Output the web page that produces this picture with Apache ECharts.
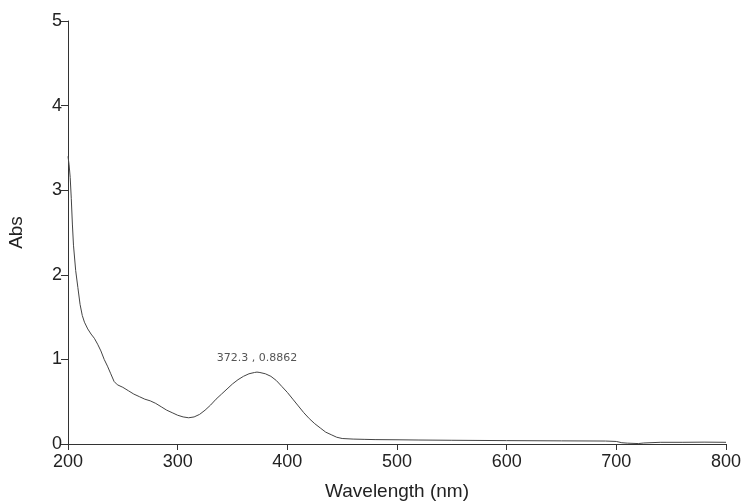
<!DOCTYPE html>
<html><head><meta charset="utf-8">
<script src="https://cdn.jsdelivr.net/npm/echarts@6/dist/echarts.min.js"></script>
<style>html,body{margin:0;padding:0;background:#fff}#c{width:748px;height:502px}</style>
</head><body><div id="c"></div>
<script>
var wavelengths = [200,201,202,203,204,205,207,209,211,213,215,218,221,224,227,230,233,236,239,242,245,250,255,260,265,270,275,280,285,290,295,300,305,310,315,320,325,330,335,340,345,350,355,360,365,370,372.3,375,380,385,390,395,400,405,410,415,420,425,430,435,440,445,450,460,470,480,500,520,550,600,650,690,700,705,710,720,725,740,760,780,800];
var absorbance = [3.40,3.30,3.15,2.90,2.60,2.35,2.05,1.85,1.65,1.52,1.44,1.36,1.30,1.25,1.18,1.10,1.00,0.92,0.83,0.74,0.70,0.67,0.63,0.59,0.56,0.53,0.51,0.48,0.44,0.40,0.37,0.34,0.32,0.31,0.32,0.35,0.40,0.46,0.53,0.59,0.65,0.71,0.76,0.80,0.83,0.845,0.85,0.845,0.83,0.80,0.75,0.68,0.61,0.53,0.45,0.37,0.30,0.24,0.19,0.14,0.11,0.08,0.065,0.058,0.055,0.052,0.05,0.047,0.044,0.04,0.037,0.035,0.03,0.015,0.01,0.005,0.012,0.02,0.02,0.022,0.02];
var xTicks = [200,300,400,500,600,700,800];
var yTicks = [0,1,2,3,4,5];
var peakLabel = '372.3 , 0.8862';
var peakX = 372.3, peakY = 0.85;

var chart = echarts.init(document.getElementById('c'));
var pts = wavelengths.map(function(w,i){return [w, absorbance[i]];});
var axisCol = '#333';
chart.setOption({
  backgroundColor: '#fff',
  animation: false,
  grid: {left: 68, right: 22, top: 21, bottom: 58, outerBoundsMode: 'none', containLabel: false},
  xAxis: {
    type: 'value', min: 200, max: 800, interval: 100,
    name: 'Wavelength (nm)', nameLocation: 'middle', nameGap: 38,
    nameTextStyle: {fontFamily: 'Liberation Sans', fontSize: 19, color: '#222'},
    axisLine: {show: true, onZero: false, lineStyle: {color: axisCol, width: 1}},
    axisTick: {show: true, inside: false, length: 6, lineStyle: {color: axisCol}},
    axisLabel: {fontFamily: 'Liberation Sans', fontSize: 18, color: '#222', margin: 9},
    splitLine: {show: false}
  },
  yAxis: {
    type: 'value', min: 0, max: 5, interval: 1,
    name: 'Abs', nameLocation: 'middle', nameGap: 42,
    nameTextStyle: {fontFamily: 'Liberation Sans', fontSize: 19, color: '#222'},
    axisLine: {show: true, lineStyle: {color: axisCol, width: 1}},
    axisTick: {show: true, inside: false, length: 7, lineStyle: {color: axisCol}},
    axisLabel: {fontFamily: 'Liberation Sans', fontSize: 18, color: '#222', margin: 6},
    splitLine: {show: false}
  },
  series: [{
    type: 'line', data: pts, showSymbol: false, smooth: false,
    lineStyle: {color: '#444', width: 1},
    markPoint: {
      symbol: 'circle', symbolSize: 0,
      label: {show: true, position: 'top', distance: 8, formatter: peakLabel,
        fontFamily: 'DejaVu Sans', fontSize: 11, color: '#555'},
      data: [{coord: [peakX, peakY]}]
    }
  }]
});
</script></body></html>
